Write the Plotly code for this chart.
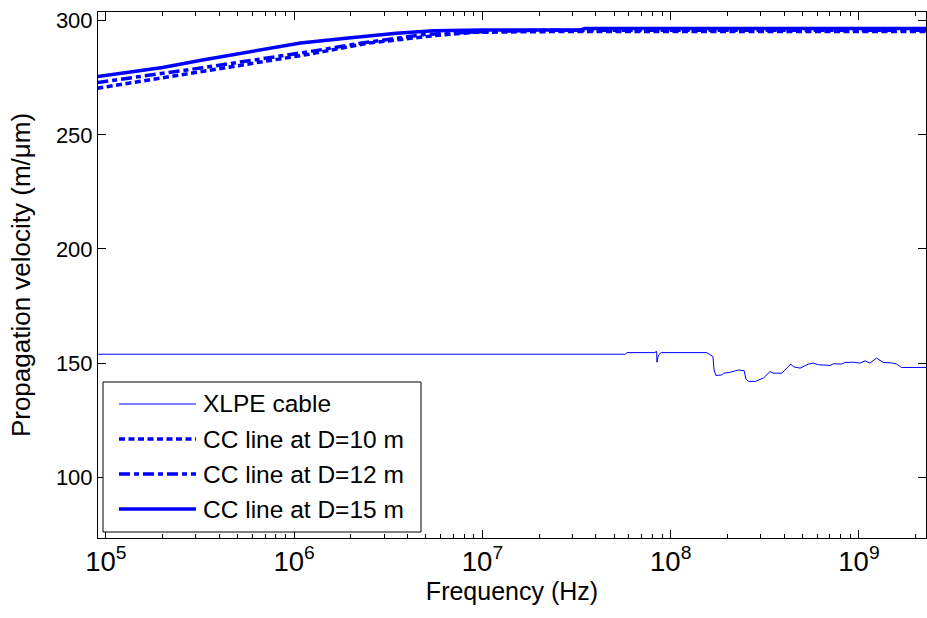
import plotly.graph_objects as go

# ---------------- data ----------------
xlpe_freq = [9.0e4, 5.74e7, 5.86e7, 8.28e7, 8.38e7, 8.42e7, 8.45e7, 8.6e7, 8.9e7,
             1.556e8, 1.675e8, 1.70e8, 1.738e8, 1.87e8, 1.907e8, 2.07e8, 2.29e8,
             2.455e8, 2.51e8, 2.59e8, 2.81e8, 2.92e8, 3.11e8, 3.37e8, 3.51e8,
             3.89e8, 4.34e8, 4.49e8, 4.87e8, 5.39e8, 5.73e8, 6.09e8, 7.02e8,
             7.31e8, 8.09e8, 8.43e8, 9.33e8, 1.01e9, 1.077e9, 1.144e9, 1.24e9,
             1.346e9, 1.49e9, 1.585e9, 1.68e9, 2.3e9]
xlpe_vel = [153.9, 153.9, 154.6, 154.6, 155.3, 155.0, 150.4, 153.5, 154.6,
            154.6, 152.9, 147.0, 144.6, 144.8, 145.6, 146.0, 147.0,
            146.7, 143.0, 142.0, 142.0, 142.7, 143.5, 146.3, 145.6,
            145.6, 149.6, 148.4, 147.8, 149.6, 150.0, 149.3, 149.0,
            149.7, 149.6, 150.3, 150.4, 150.0, 151.0, 150.0, 152.2,
            150.3, 150.1, 149.6, 148.1, 148.1]

d10_freq = [9.0e4, 3.26e5, 1.2e6, 2.44e6, 5.5e6, 9.0e6, 2.0e7, 2.3e9]
d10_vel = [270.4, 277.7, 285.3, 290.1, 293.4, 294.9, 295.2, 295.3]

d12_freq = [9.0e4, 3.26e5, 1.2e6, 2.4e6, 5.0e6, 1.0e7, 2.0e7, 2.3e9]
d12_vel = [272.9, 279.4, 286.4, 290.5, 294.0, 295.2, 295.8, 295.8]

d15_freq = [9.0e4, 2.0e5, 3.26e5, 6.0e5, 1.08e6, 2.0e6, 3.5e6, 5.5e6, 1.0e7,
            3.3e7, 3.5e7, 2.3e9]
d15_vel = [275.5, 279.5, 282.8, 286.5, 290.2, 292.5, 294.5, 295.6, 295.9,
           295.9, 296.6, 296.6]

series_names = ["XLPE cable", "CC line at D=10 m", "CC line at D=12 m", "CC line at D=15 m"]
y_ticks = [100, 150, 200, 250, 300]

# ---------------- styles ----------------
BLUE = "#0000FF"
FONT = "Liberation Sans, Arial, Helvetica, sans-serif"
FS_TICK = 22
FS_XTITLE = 25
FS_YTITLE = 26
FS_LEG = 24.5
styles = [
    dict(color=BLUE, width=1, dash="solid"),
    dict(color=BLUE, width=3.5, dash="6px,3.5px"),
    dict(color=BLUE, width=3.5, dash="11px,4px,5px,4px"),
    dict(color=BLUE, width=3.5, dash="solid"),
]

fig = go.Figure()
for name, xs, ys, st in zip(series_names,
                            [xlpe_freq, d10_freq, d12_freq, d15_freq],
                            [xlpe_vel, d10_vel, d12_vel, d15_vel],
                            styles):
    fig.add_trace(go.Scatter(x=xs, y=ys, mode="lines", name=name,
                             line=dict(shape="linear", **st), showlegend=False,
                             hoverinfo="skip"))

# ---------------- layout ----------------
W, H = 927, 618
ML, MR, MT, MB = 98, 1, 12, 80
PW, PH = W - ML - MR, H - MT - MB

def px(x):  # screen pixel -> paper x
    return (x - ML) / PW

def py(y):  # screen pixel -> paper y
    return (H - MB - y) / PH

fig.update_layout(
    width=W, height=H,
    margin=dict(l=ML, r=MR, t=MT, b=MB, autoexpand=False),
    paper_bgcolor="white", plot_bgcolor="white",
    font=dict(family=FONT, size=FS_TICK, color="black"),
    hovermode=False,
    xaxis=dict(
        type="log", range=[4.958, 9.356], dtick=1, exponentformat="power",
        automargin=False,
        showgrid=False, zeroline=False, showline=True, linecolor="black",
        linewidth=1, mirror="allticks", ticks="inside", ticklen=8,
        tickcolor="black", tickfont=dict(size=FS_TICK),
        minor=dict(ticks="inside", ticklen=4, tickcolor="black", dtick="D1",
                   showgrid=False),
        title=dict(text="Frequency (Hz)", font=dict(size=FS_XTITLE), standoff=6),
    ),
    yaxis=dict(
        range=[73.4, 303.8], tickvals=y_ticks, ticktext=[str(v) for v in y_ticks],
        automargin=False,
        showgrid=False, zeroline=False, showline=True, linecolor="black",
        linewidth=1, mirror="allticks", ticks="inside", ticklen=8,
        tickcolor="black", tickfont=dict(size=FS_TICK),
        title=dict(text="Propagation velocity (m/\u03bcm)", font=dict(size=FS_YTITLE),
                   standoff=17),
    ),
)

# ---------------- legend drawn as a boxed key ----------------
shapes = [dict(type="rect", xref="paper", yref="paper",
               x0=px(103), x1=px(421), y0=py(532), y1=py(382),
               line=dict(color="black", width=1), fillcolor="white", layer="above")]
annotations = []
row_y = [404, 439, 474, 509]
for name, st, ry in zip(series_names, styles, row_y):
    shapes.append(dict(type="line", xref="paper", yref="paper",
                       x0=px(119), x1=px(196), y0=py(ry), y1=py(ry),
                       line=dict(color=st["color"], width=st["width"], dash=st["dash"]),
                       layer="above"))
    annotations.append(dict(xref="paper", yref="paper", x=px(201), y=py(ry),
                            text=name, showarrow=False, xanchor="left",
                            yanchor="middle",
                            font=dict(family=FONT, size=FS_LEG, color="black")))
fig.update_layout(shapes=shapes, annotations=annotations)

fig.write_html(
    "out.html",
    config={"displayModeBar": False, "staticPlot": True},
    post_script="document.body.style.margin='0';document.body.style.overflow='hidden';",
)
